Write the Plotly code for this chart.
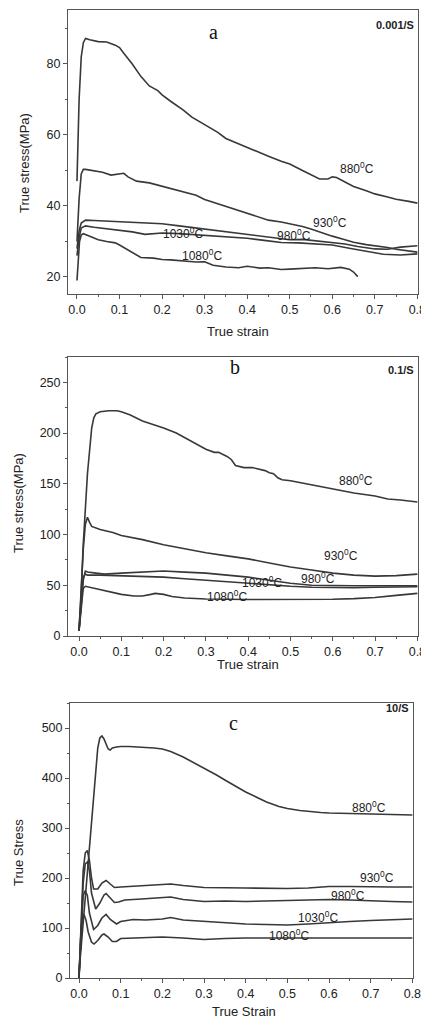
import plotly.graph_objects as go

# the page body has an 8px margin (left/top); the figure is sized to end at the window edges
OFF = 8
W, H = 429 - OFF, 1021 - OFF

# ---------------- Panel a : 0.001/S ----------------
strain_a_880 = [0, 0.005, 0.01, 0.015, 0.02, 0.03, 0.05, 0.07, 0.09, 0.1, 0.11, 0.13, 0.15, 0.17, 0.19, 0.2, 0.22, 0.25, 0.27, 0.3, 0.33, 0.35, 0.38, 0.4, 0.43, 0.45, 0.48, 0.5, 0.53, 0.55, 0.57, 0.59, 0.6, 0.61, 0.63, 0.65, 0.68, 0.7, 0.73, 0.75, 0.78, 0.8]
stress_a_880 = [47, 70, 82, 86, 87.2, 86.8, 86.3, 86.2, 85.3, 84.6, 83, 80, 76.5, 73.8, 72.5, 71.3, 69.5, 67, 65, 63, 60.8, 59, 57.5, 56.3, 54.8, 54, 52.6, 51.8, 50, 48.7, 47.6, 47.6, 48.2, 48, 46.8, 45.5, 44.3, 43.4, 42.5, 41.9, 41.3, 40.8]

strain_a_930 = [0, 0.005, 0.01, 0.015, 0.02, 0.04, 0.06, 0.08, 0.1, 0.11, 0.12, 0.14, 0.17, 0.2, 0.23, 0.25, 0.27, 0.28, 0.3, 0.33, 0.36, 0.4, 0.43, 0.45, 0.48, 0.5, 0.53, 0.55, 0.58, 0.6, 0.63, 0.65, 0.68, 0.7, 0.73, 0.75, 0.78, 0.8]
stress_a_930 = [30, 42, 49, 50.3, 50.3, 49.8, 49.5, 48.7, 48.9, 49.2, 48.2, 47, 46.5, 45.6, 44.6, 44.0, 43.5, 43.0, 41.8, 40.6, 39.5, 37.8, 36.8, 36, 35.5, 35, 34.2, 33.5, 32.2, 31.5, 30.5, 29.8, 29.1, 28.8, 28.3, 27.8, 27.3, 27]

strain_a_980 = [0, 0.005, 0.01, 0.02, 0.04, 0.07, 0.1, 0.13, 0.16, 0.2, 0.24, 0.28, 0.32, 0.36, 0.4, 0.44, 0.48, 0.5, 0.53, 0.56, 0.6, 0.63, 0.66, 0.7, 0.73, 0.76, 0.8]
stress_a_980 = [28, 33, 35.2, 36, 35.9, 35.7, 35.5, 35.4, 35.2, 35.0, 34.4, 33.8, 33.2, 32.6, 32.0, 31.4, 30.8, 30.5, 30.6, 30.2, 29.8, 29.3, 28.6, 27.9, 27.8, 28.4, 28.8]

strain_a_1030 = [0, 0.005, 0.01, 0.02, 0.04, 0.07, 0.1, 0.13, 0.16, 0.2, 0.24, 0.28, 0.32, 0.36, 0.4, 0.44, 0.48, 0.52, 0.56, 0.6, 0.64, 0.68, 0.72, 0.76, 0.8]
stress_a_1030 = [26, 31, 33.8, 34.4, 34.0, 33.6, 33.2, 32.7, 32.0, 32.4, 32.2, 31.9, 31.6, 31.3, 30.9, 30.3, 29.7, 29.6, 29.4, 29.0, 28.1, 27.2, 26.4, 26.2, 26.5]

strain_a_1080 = [0, 0.003, 0.006, 0.01, 0.015, 0.03, 0.05, 0.07, 0.09, 0.1, 0.12, 0.14, 0.15, 0.18, 0.2, 0.22, 0.25, 0.28, 0.3, 0.32, 0.35, 0.38, 0.4, 0.43, 0.45, 0.48, 0.5, 0.53, 0.56, 0.59, 0.62, 0.64, 0.65, 0.66]
stress_a_1080 = [19, 26, 30, 31.8, 32.2, 31.5, 30.5, 30.0, 29.6, 29.0, 27.5, 26.0, 25.5, 25.3, 24.9, 24.8, 24.5, 24.2, 24.3, 23.3, 22.8, 22.6, 23.0, 22.5, 22.6, 22.1, 22.2, 22.4, 22.6, 22.3, 22.7, 22.2, 21.4, 20.1]

# ---------------- Panel b : 0.1/S ----------------
strain_b_880 = [0, 0.005, 0.01, 0.02, 0.03, 0.035, 0.04, 0.05, 0.07, 0.09, 0.1, 0.12, 0.15, 0.18, 0.2, 0.23, 0.26, 0.29, 0.3, 0.32, 0.33, 0.35, 0.36, 0.37, 0.39, 0.41, 0.42, 0.44, 0.45, 0.46, 0.47, 0.48, 0.5, 0.55, 0.6, 0.65, 0.7, 0.73, 0.76, 0.8]
stress_b_880 = [5, 40, 90, 160, 205, 215, 219, 221, 222, 222, 221, 218, 212, 208, 205, 200, 193, 186, 184, 181, 181, 177, 174, 168, 166, 166, 165, 163, 161, 160, 156, 154, 153, 149, 145, 141, 138, 135, 134, 132]

strain_b_930 = [0, 0.005, 0.01, 0.015, 0.02, 0.025, 0.03, 0.05, 0.08, 0.1, 0.15, 0.2, 0.25, 0.3, 0.35, 0.4, 0.45, 0.5, 0.55, 0.6, 0.65, 0.7, 0.75, 0.8]
stress_b_930 = [5, 45, 85, 110, 117, 112, 108, 105, 102, 99, 95, 90, 86, 82, 79, 76, 72, 68, 65, 62, 60, 59, 59.5, 61]

strain_b_980 = [0, 0.005, 0.01, 0.015, 0.02, 0.04, 0.06, 0.1, 0.15, 0.2, 0.25, 0.3, 0.35, 0.4, 0.45, 0.5, 0.55, 0.6, 0.65, 0.7, 0.75, 0.8]
stress_b_980 = [5, 30, 55, 64, 63, 62, 61, 62, 63, 64, 63, 62, 60, 58, 55, 52, 50, 49.5, 49.5, 49.5, 49.5, 49.5]

strain_b_1030 = [0, 0.005, 0.01, 0.015, 0.02, 0.05, 0.1, 0.15, 0.2, 0.25, 0.3, 0.35, 0.4, 0.45, 0.5, 0.55, 0.6, 0.65, 0.7, 0.75, 0.8]
stress_b_1030 = [5, 35, 58, 61, 60, 60, 59.5, 59, 58, 56.5, 55, 53, 51.5, 50, 49, 48, 47.5, 47.5, 48, 48.5, 48.5]

strain_b_1080 = [0, 0.005, 0.01, 0.015, 0.02, 0.05, 0.08, 0.1, 0.13, 0.15, 0.17, 0.18, 0.2, 0.22, 0.25, 0.3, 0.4, 0.5, 0.6, 0.65, 0.7, 0.75, 0.8]
stress_b_1080 = [5, 30, 47, 49, 48.5, 46, 43, 41, 39.5, 39.5, 41, 42, 41, 39, 37.5, 36.5, 36, 36, 36.2, 36.8, 38, 40, 42]

# ---------------- Panel c : 10/S ----------------
strain_c_880 = [0, 0.01, 0.02, 0.03, 0.04, 0.045, 0.05, 0.055, 0.06, 0.065, 0.07, 0.075, 0.08, 0.09, 0.1, 0.12, 0.15, 0.18, 0.2, 0.22, 0.25, 0.28, 0.3, 0.33, 0.35, 0.38, 0.4, 0.43, 0.45, 0.48, 0.5, 0.53, 0.55, 0.58, 0.6, 0.65, 0.7, 0.75, 0.8]
stress_c_880 = [10, 110, 210, 310, 410, 460, 480, 484, 478, 466, 458, 456, 460, 462, 463, 463, 462, 460, 458, 453, 442, 429, 420, 406, 396, 382, 372, 360, 352, 343, 339, 335, 333, 331, 330, 329, 328, 327, 326]

strain_c_930 = [0, 0.005, 0.01, 0.015, 0.02, 0.025, 0.03, 0.035, 0.045, 0.055, 0.065, 0.075, 0.085, 0.1, 0.15, 0.2, 0.22, 0.25, 0.3, 0.4, 0.5, 0.55, 0.6, 0.65, 0.7, 0.75, 0.8]
stress_c_930 = [0, 110, 215, 250, 255, 235, 200, 178, 178, 190, 195, 188, 181, 182, 184, 186, 188, 185, 181, 180, 179, 180, 183, 183, 182, 182, 182]

strain_c_980 = [0, 0.005, 0.01, 0.015, 0.02, 0.025, 0.03, 0.04, 0.05, 0.06, 0.065, 0.075, 0.085, 0.095, 0.11, 0.15, 0.2, 0.22, 0.25, 0.3, 0.35, 0.4, 0.5, 0.55, 0.6, 0.65, 0.7, 0.75, 0.8]
stress_c_980 = [0, 100, 190, 228, 232, 215, 170, 138, 150, 166, 169, 160, 151, 152, 156, 158, 160, 162, 157, 153, 154, 153, 155, 156, 157, 156, 154, 153, 152]

strain_c_1030 = [0, 0.005, 0.01, 0.015, 0.02, 0.025, 0.035, 0.045, 0.055, 0.065, 0.075, 0.09, 0.1, 0.13, 0.16, 0.2, 0.22, 0.25, 0.3, 0.35, 0.4, 0.45, 0.5, 0.55, 0.6, 0.65, 0.7, 0.75, 0.8]
stress_c_1030 = [0, 95, 165, 175, 165, 130, 97, 105, 120, 127, 117, 108, 113, 117, 116, 118, 121, 116, 113, 110, 108, 107, 106, 108, 111, 113, 115, 116, 118]

strain_c_1080 = [0, 0.004, 0.008, 0.012, 0.017, 0.022, 0.03, 0.036, 0.045, 0.055, 0.06, 0.07, 0.08, 0.09, 0.1, 0.15, 0.2, 0.25, 0.3, 0.35, 0.4, 0.5, 0.6, 0.7, 0.8]
stress_c_1080 = [0, 80, 122, 127, 115, 92, 72, 68, 75, 86, 88, 82, 73, 73, 79, 80, 82, 80, 77, 79, 80, 80, 80, 80, 80]

temps = ["880", "930", "980", "1030", "1080"]
label_pos_a = [(0.657, 50.7), (0.594, 35.5), (0.511, 31.8), (0.249, 32.4), (0.293, 26.2)]
label_pos_b = [(0.656, 153.5), (0.62, 79.7), (0.565, 57), (0.432, 53), (0.349, 39.4)]
label_pos_c = [(0.697, 342), (0.716, 202), (0.645, 166), (0.573, 122), (0.505, 86)]

panel_letters = ["a", "b", "c"]
rate_labels = ["0.001/S", "0.1/S", "10/S"]
x_titles = ["True strain", "True strain", "True Strain"]
y_titles = ["True stress(MPa)", "True stress(MPa)", "True Stress"]

y_ranges = [[15.2, 95.2], [0, 275], [0, 550]]
x_ranges = [[-0.0211, 0.8015], [-0.026, 0.8015], [-0.0216, 0.8015]]
y_dticks = [20, 50, 100]
y_tick0 = [20, 0, 0]

LINE = "#383838"
AX = "#555555"
TXT = "#222222"
FONT = "Liberation Sans, Arial, sans-serif"

panels = [
    [(strain_a_880, stress_a_880), (strain_a_930, stress_a_930), (strain_a_980, stress_a_980), (strain_a_1030, stress_a_1030), (strain_a_1080, stress_a_1080)],
    [(strain_b_880, stress_b_880), (strain_b_930, stress_b_930), (strain_b_980, stress_b_980), (strain_b_1030, stress_b_1030), (strain_b_1080, stress_b_1080)],
    [(strain_c_880, stress_c_880), (strain_c_930, stress_c_930), (strain_c_980, stress_c_980), (strain_c_1030, stress_c_1030), (strain_c_1080, stress_c_1080)],
]
label_pos = [label_pos_a, label_pos_b, label_pos_c]

# pixel boxes in window coords (left, right, top, bottom)
boxes = [(68, 418, 10, 294), (68, 418, 357, 636), (70, 413, 703, 978)]
letter_px = [(213, 32), (235, 367), (233, 723)]
rate_py = [25, 370, 708]
xtitle_px = [(238, 331), (248, 664), (244, 1011)]
ytitle_px = [(25, 163), (18, 503), (18, 853)]

fig = go.Figure()
layout = dict(template="none", width=W, height=H, autosize=False,
              margin=dict(l=0, r=0, t=0, b=0, pad=0, autoexpand=False),
              paper_bgcolor="white", plot_bgcolor="white", showlegend=False,
              font=dict(family=FONT, color=TXT))
annotations = []

def fx(px):
    return (px - OFF) / W

def fy(py):
    return 1 - (py - OFF) / H

def paper_note(px, py, text, font, **kw):
    d = dict(x=fx(px), y=fy(py), xref="paper", yref="paper", showarrow=False,
             xanchor="center", yanchor="middle", text=text, font=font)
    d.update(kw)
    return d

for i in range(3):
    sfx = "" if i == 0 else str(i + 1)
    xa, ya = "x" + sfx, "y" + sfx
    for (sx, sy) in panels[i]:
        fig.add_trace(go.Scatter(x=sx, y=sy, mode="lines", xaxis=xa, yaxis=ya,
                                 line=dict(color=LINE, width=1.6), hoverinfo="skip"))
    l, r, t, b = boxes[i]
    axis_common = dict(showline=True, linecolor=AX, linewidth=1, mirror=True,
                       ticks="outside", ticklen=4, tickwidth=1, tickcolor=AX,
                       showgrid=False, zeroline=False, automargin=False,
                       tickfont=dict(size=12.5, color=TXT, family=FONT))
    layout["xaxis" + sfx] = dict(axis_common, domain=[fx(l), fx(r)], range=x_ranges[i],
                                 anchor=ya, tick0=0, dtick=0.1, tickformat=".1f",
                                 minor=dict(ticks="outside", ticklen=2, dtick=0.05, tickcolor=AX))
    layout["yaxis" + sfx] = dict(axis_common, domain=[fy(b), fy(t)], range=y_ranges[i],
                                 anchor=xa, tick0=y_tick0[i], dtick=y_dticks[i],
                                 minor=dict(ticks="outside", ticklen=2, dtick=y_dticks[i] / 2, tickcolor=AX))
    for temp, (lx, ly) in zip(temps, label_pos[i]):
        annotations.append(dict(x=lx, y=ly, xref=xa, yref=ya, showarrow=False,
                                xanchor="center", yanchor="middle",
                                text=temp + "<sup>0</sup>C",
                                font=dict(size=12, color=TXT, family=FONT)))
    annotations.append(paper_note(letter_px[i][0], letter_px[i][1], panel_letters[i],
                                  dict(size=20, color="#111", family="Liberation Serif, Times New Roman, serif")))
    annotations.append(paper_note(r - 2, rate_py[i], "<b>" + rate_labels[i] + "</b>",
                                  dict(size=11, color=TXT, family=FONT), xanchor="right"))
    annotations.append(paper_note(xtitle_px[i][0], xtitle_px[i][1], x_titles[i],
                                  dict(size=13, color=TXT, family=FONT)))
    annotations.append(paper_note(ytitle_px[i][0], ytitle_px[i][1], y_titles[i],
                                  dict(size=13, color=TXT, family=FONT), textangle=-90))

layout["annotations"] = annotations
fig.update_layout(**layout)
fig.write_html("out.html")
